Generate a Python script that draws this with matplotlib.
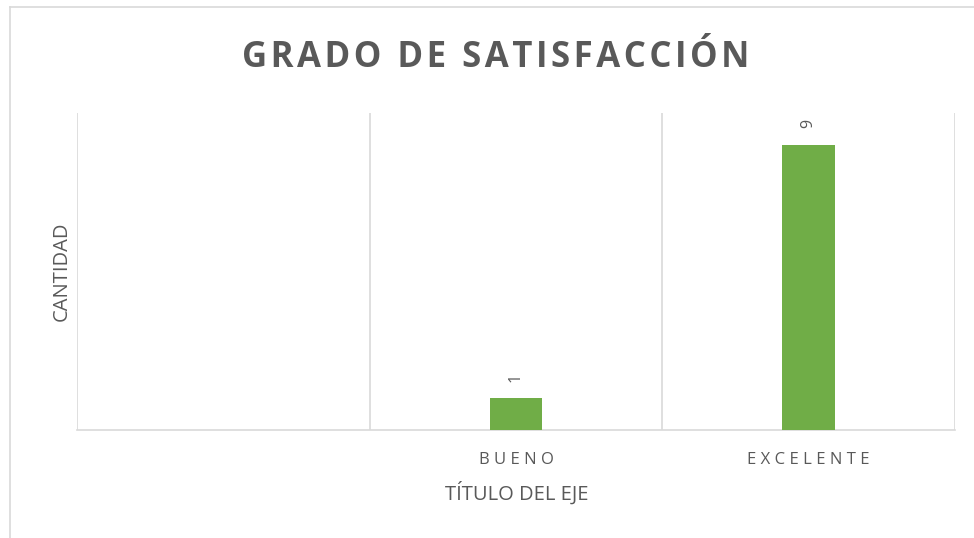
import numpy as np
import matplotlib
matplotlib.use("Agg")
import matplotlib.pyplot as plt
from matplotlib.lines import Line2D

# data
categories = ["", "BUENO", "EXCELENTE"]
cantidad = [np.nan, 1, 9]

title_txt = "GRADO DE SATISFACCIÓN"
xlabel_txt = "TÍTULO DEL EJE"
ylabel_txt = "CANTIDAD"

bar_color = "#70ad47"
grid_color = "#d9d9d9"
text_color = "#595959"

plt.rcParams['font.family'] = ['Open Sans', 'DejaVu Sans']

W, H = 974, 538
fig = plt.figure(figsize=(W/100, H/100), dpi=100)
ax = fig.add_axes([77/W, 1 - 430/H, (955 - 77)/W, (430 - 113)/H])

x = np.arange(len(categories))
ax.bar(x, cantidad, width=0.18, color=bar_color, zorder=3)

for xi, v in zip(x, cantidad):
    if not np.isnan(v):
        ax.annotate("{:g}".format(v), (xi, v), xytext=(0, 12), textcoords="offset points",
                    ha="center", va="bottom", rotation=90, fontsize=11.5, color=text_color)

ax.set_xlim(-0.5, len(categories) - 0.5)
ax.set_ylim(0, 10)

# vertical gridlines on category borders
for b in np.arange(-0.5, len(categories), 1.0):
    ax.axvline(b, color=grid_color, lw=1.2, zorder=1)

for s in ["top", "right", "left"]:
    ax.spines[s].set_visible(False)
ax.spines["bottom"].set_color(grid_color)
ax.spines["bottom"].set_linewidth(1.2)

ax.set_yticks([])
ax.set_xticks(x)
ax.set_xticklabels([" ".join(c) for c in categories], fontsize=12, color=text_color)
ax.tick_params(axis="x", length=0, pad=16)

# axis titles and chart title, placed in figure pixels
fig.text(517/W, 1 - 500/H, xlabel_txt, ha="center", va="baseline",
         fontsize=14.5, color=text_color)
fig.text(67/W, 1 - 271/H, ylabel_txt, ha="center", va="baseline", rotation=90,
         rotation_mode="anchor", fontsize=14.5, color=text_color)
fig.text(496/W, 1 - 67/H, "\u200a".join(title_txt), ha="center", va="baseline",
         fontsize=25, fontweight="bold", color=text_color)

# chart area border (left and top visible)
fig.add_artist(Line2D([10/W, 10/W], [0, 1 - 7/H], color=grid_color, lw=1.2))
fig.add_artist(Line2D([10/W, 1], [1 - 7/H, 1 - 7/H], color=grid_color, lw=1.2))

fig.savefig("out.png", dpi=100)
